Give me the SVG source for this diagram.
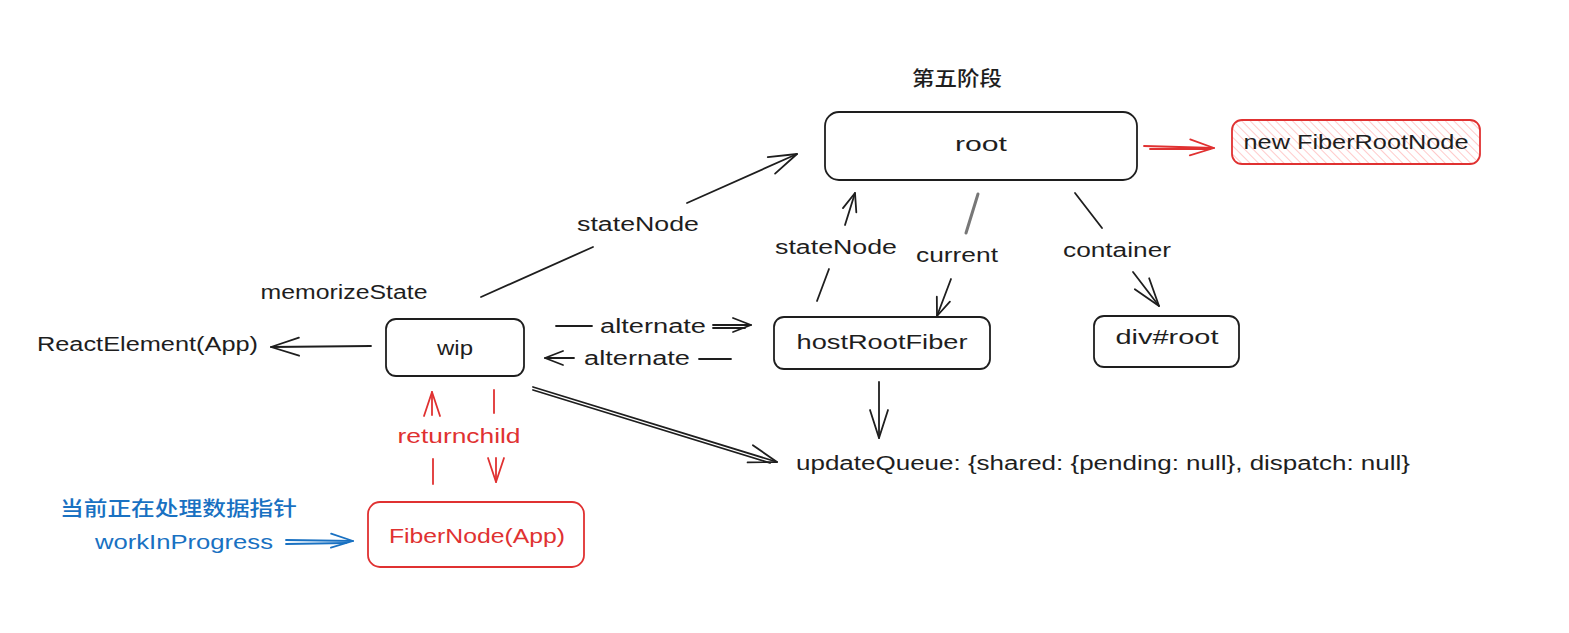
<svg xmlns="http://www.w3.org/2000/svg" width="1569" height="633" viewBox="0 0 1569 633">
<style>
  .bx { fill: #ffffff; stroke: #1e1e1e; stroke-width: 1.8; }
  .rbx { fill: #ffffff; stroke: #e03131; stroke-width: 1.8; }
  .t { font-family: "Liberation Sans", "Noto Sans", sans-serif; font-size: 20px; fill: #1e1e1e; }
  .cjk { font-family: "Noto Sans CJK SC", "Noto Sans", sans-serif; font-size: 20px; fill: #1e1e1e; font-weight: 500; }
  .red { fill: #e03131; }
  .blue { fill: #1971c2; }
  .ln { fill: none; stroke: #1e1e1e; stroke-width: 1.8; stroke-linecap: round; }
  .lnr { fill: none; stroke: #e03131; stroke-width: 1.8; stroke-linecap: round; }
  .lnb { fill: none; stroke: #1971c2; stroke-width: 1.8; stroke-linecap: round; }
</style>
<defs>
  <marker id="ah" viewBox="-30 -12 32 24" refX="0" refY="0" markerWidth="32" markerHeight="24" markerUnits="userSpaceOnUse" orient="auto" overflow="visible">
    <path d="M-28,-9 L0,0 L-28,9" fill="none" stroke="#1e1e1e" stroke-width="1.8" stroke-linecap="round" stroke-linejoin="round"/>
  </marker>
  <marker id="ahs" viewBox="-30 -12 32 24" refX="0" refY="0" markerWidth="32" markerHeight="24" markerUnits="userSpaceOnUse" orient="auto" overflow="visible">
    <path d="M-18,-7 L0,0 L-18,7" fill="none" stroke="#1e1e1e" stroke-width="1.8" stroke-linecap="round" stroke-linejoin="round"/>
  </marker>
  <marker id="ahr" viewBox="-30 -12 32 24" refX="0" refY="0" markerWidth="32" markerHeight="24" markerUnits="userSpaceOnUse" orient="auto" overflow="visible">
    <path d="M-24,-8 L0,0 L-24,8" fill="none" stroke="#e03131" stroke-width="1.8" stroke-linecap="round" stroke-linejoin="round"/>
  </marker>
  <marker id="ahb" viewBox="-30 -12 32 24" refX="0" refY="0" markerWidth="32" markerHeight="24" markerUnits="userSpaceOnUse" orient="auto" overflow="visible">
    <path d="M-22,-7 L0,0 L-22,7" fill="none" stroke="#1971c2" stroke-width="1.8" stroke-linecap="round" stroke-linejoin="round"/>
  </marker>
  <pattern id="hatch" patternUnits="userSpaceOnUse" width="6" height="6" patternTransform="rotate(-45)">
    <rect width="6" height="6" fill="#ffffff"/>
    <line x1="0" y1="0" x2="0" y2="6" stroke="#ffb3b3" stroke-width="1.4"/>
  </pattern>
</defs>

<rect width="1569" height="633" fill="#ffffff"/>

<text id="title" class="cjk" x="957" y="86" text-anchor="middle" font-size="22" textLength="90" lengthAdjust="spacingAndGlyphs">第五阶段</text>

<g id="connectors">
  <!-- wip -> root stateNode -->
  <path class="ln" d="M481,297 L593,247"/>
  <path class="ln" d="M687,203 L797,154" marker-end="url(#ah)"/>
  <!-- root -> new FiberRootNode -->
  <path class="lnr" d="M1144,146 L1214,148" marker-end="url(#ahr)"/>
  <path class="lnr" d="M1150,149 L1210,149"/>
  <!-- hostRootFiber -> root stateNode -->
  <path class="ln" d="M817,301 L829,269"/>
  <path class="ln" d="M845,225 L855,193" marker-end="url(#ahs)"/>
  <!-- root -> hostRootFiber current -->
  <path d="M978,194 L966,233" fill="none" stroke="#777777" stroke-width="3" stroke-linecap="round"/>
  <path class="ln" d="M951,279 L937,316" marker-end="url(#ahs)"/>
  <!-- root -> div#root container -->
  <path class="ln" d="M1075,193 L1102,228"/>
  <path class="ln" d="M1133,272 L1159,306" marker-end="url(#ah)"/>
  <!-- wip -> ReactElement -->
  <path class="ln" d="M371,346 L271,347" marker-end="url(#ah)"/>
  <!-- alternate wip -> hostRootFiber -->
  <path class="ln" d="M556,326 L592,326"/>
  <path class="ln" d="M713,325 L751,325" marker-end="url(#ahs)"/>
  <path class="ln" d="M713,328 L745,328"/>
  <!-- alternate hostRootFiber -> wip -->
  <path class="ln" d="M699,359 L731,359"/>
  <path class="ln" d="M574,358 L545,358" marker-end="url(#ahs)"/>
  <!-- hostRootFiber -> updateQueue -->
  <path class="ln" d="M879,382 L879,438" marker-end="url(#ah)"/>
  <!-- wip -> updateQueue -->
  <path class="ln" d="M533,387 L777,462" marker-end="url(#ah)"/>
  <path class="ln" d="M533,390 L770,463"/>
  <!-- return (FiberNode -> wip) -->
  <path class="lnr" d="M433,484 L433,459"/>
  <path class="lnr" d="M432,415 L432,392" marker-end="url(#ahr)"/>
  <!-- child (wip -> FiberNode) -->
  <path class="lnr" d="M494,390 L494,413"/>
  <path class="lnr" d="M496,458 L496,482" marker-end="url(#ahr)"/>
  <!-- workInProgress -> FiberNode -->
  <path class="lnb" d="M286,540 L353,541" marker-end="url(#ahb)"/>
  <path class="lnb" d="M286,544 L346,543"/>
</g>

<g id="labels">
  <text class="t" x="638" y="231" text-anchor="middle" textLength="122" lengthAdjust="spacingAndGlyphs">stateNode</text>
  <text class="t" x="344" y="299" text-anchor="middle" textLength="167" lengthAdjust="spacingAndGlyphs">memorizeState</text>
  <text class="t" x="653" y="333" text-anchor="middle" textLength="106" lengthAdjust="spacingAndGlyphs">alternate</text>
  <text class="t" x="637" y="365" text-anchor="middle" textLength="106" lengthAdjust="spacingAndGlyphs">alternate</text>
  <text class="t" x="836" y="254" text-anchor="middle" textLength="122" lengthAdjust="spacingAndGlyphs">stateNode</text>
  <text class="t" x="957" y="262" text-anchor="middle" textLength="82" lengthAdjust="spacingAndGlyphs">current</text>
  <text class="t" x="1117" y="257" text-anchor="middle" textLength="108" lengthAdjust="spacingAndGlyphs">container</text>
  <text class="t red" x="459" y="443" text-anchor="middle" textLength="123" lengthAdjust="spacingAndGlyphs">returnchild</text>
</g>

<g id="node-root">
  <rect class="bx" x="825" y="112" width="312" height="68" rx="14"/>
  <text class="t" x="981" y="151" text-anchor="middle" textLength="52" lengthAdjust="spacingAndGlyphs">root</text>
</g>

<g id="node-newFiberRootNode">
  <rect x="1232" y="120" width="248" height="44" rx="10" fill="url(#hatch)" stroke="#e03131" stroke-width="1.8"/>
  <text class="t" x="1356" y="149" text-anchor="middle" textLength="225" lengthAdjust="spacingAndGlyphs">new FiberRootNode</text>
</g>

<g id="node-wip">
  <rect class="bx" x="386" y="319" width="138" height="57" rx="10"/>
  <text class="t" x="455" y="355" text-anchor="middle" textLength="36" lengthAdjust="spacingAndGlyphs">wip</text>
</g>

<g id="node-reactElement">
  <text class="t" x="37" y="351" textLength="221" lengthAdjust="spacingAndGlyphs">ReactElement(App)</text>
</g>

<g id="node-hostRootFiber">
  <rect class="bx" x="774" y="317" width="216" height="52" rx="10"/>
  <text class="t" x="882" y="349" text-anchor="middle" textLength="171" lengthAdjust="spacingAndGlyphs">hostRootFiber</text>
</g>

<g id="node-divroot">
  <rect class="bx" x="1094" y="316" width="145" height="51" rx="10"/>
  <text class="t" x="1167" y="344" text-anchor="middle" textLength="103" lengthAdjust="spacingAndGlyphs">div#root</text>
</g>

<g id="node-updateQueue">
  <text class="t" x="796" y="470" textLength="614" lengthAdjust="spacingAndGlyphs">updateQueue: {shared: {pending: null}, dispatch: null}</text>
</g>

<g id="node-fiberNode">
  <rect class="rbx" x="368" y="502" width="216" height="65" rx="12"/>
  <text class="t red" x="477" y="543" text-anchor="middle" textLength="176" lengthAdjust="spacingAndGlyphs">FiberNode(App)</text>
</g>

<g id="node-workInProgress">
  <text class="cjk blue" x="60" y="516" font-size="21" textLength="237" lengthAdjust="spacingAndGlyphs">当前正在处理数据指针</text>
  <text class="t blue" x="95" y="549" textLength="178" lengthAdjust="spacingAndGlyphs">workInProgress</text>
</g>
</svg>
